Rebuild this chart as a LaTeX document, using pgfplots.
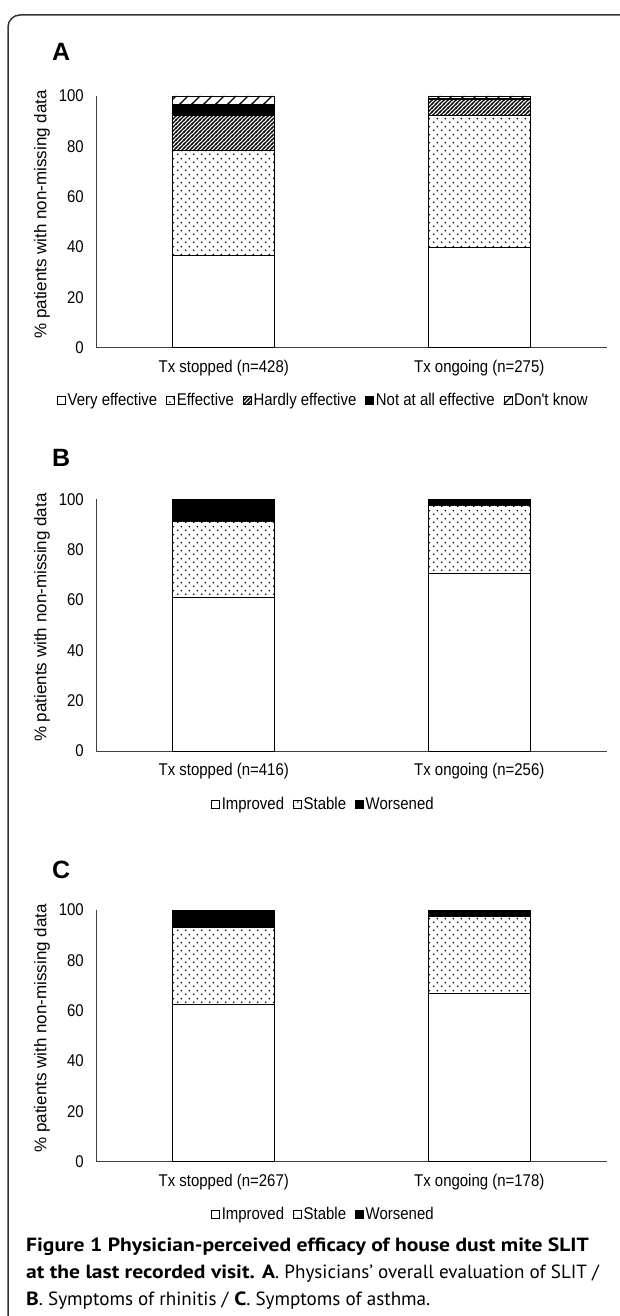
\documentclass[border=0pt]{standalone}
\usepackage{fontspec}
\usepackage{pgfplots}
\pgfplotsset{compat=1.18}
\usetikzlibrary{patterns}
\setmainfont{Liberation Sans}
\newfontfamily\chartfont[FakeStretch=0.88]{Liberation Sans}
\newfontfamily\capfont[BoldFeatures={FakeStretch=1.13}]{PT Sans}

% patterns of the bars
\pgfdeclarepatternformonly{sdots}{\pgfqpoint{0pt}{0pt}}{\pgfqpoint{8pt}{8pt}}{\pgfqpoint{8pt}{8pt}}{%
  \pgfpathcircle{\pgfqpoint{2pt}{2pt}}{1pt}%
  \pgfpathcircle{\pgfqpoint{6pt}{6pt}}{1pt}%
  \pgfusepath{fill}}
\pgfdeclarepatternformonly{shatch}{\pgfqpoint{-1pt}{-1pt}}{\pgfqpoint{5pt}{5pt}}{\pgfqpoint{4pt}{4pt}}{%
  \pgfsetlinewidth{1.1pt}%
  \pgfpathmoveto{\pgfqpoint{-1pt}{-1pt}}\pgfpathlineto{\pgfqpoint{5pt}{5pt}}%
  \pgfusepath{stroke}}
\pgfdeclarepatternformonly{sdash}{\pgfqpoint{-1pt}{-1pt}}{\pgfqpoint{13pt}{13pt}}{\pgfqpoint{12pt}{12pt}}{%
  \pgfsetlinewidth{1.1pt}%
  \pgfpathmoveto{\pgfqpoint{-1pt}{-1pt}}\pgfpathlineto{\pgfqpoint{13pt}{13pt}}%
  \pgfusepath{stroke}}

\pgfplotsset{
  panel/.style={
    ybar stacked, bar width=102pt,
    scale only axis, width=511pt, height=251.7pt,
    anchor=south west, clip=false,
    xmin=-0.5, xmax=1.5, ymin=0, ymax=100,
    axis x line=bottom, axis y line=left,
    axis line style={-, black!75, line width=0.9pt},
    major tick length=0pt,
    xtick={0,1}, ytick={0,20,40,60,80,100},
    yticklabels={0,20,40,60,80,100},
    tick label style={font=\chartfont\fontsize{17}{20}\selectfont},
    yticklabel style={inner sep=0pt, anchor=east, xshift=-12pt},
    xticklabel style={inner sep=0pt, anchor=north, yshift=-12pt},
    ylabel={\% patients with non-missing data},
    ylabel style={font=\fontsize{17}{20}\selectfont, at={(axis description cs:-0.1057,0.53)}, anchor=center},
    legend style={at={(axis description cs:0.445,-0.21)}, anchor=center, draw=none,
      legend columns=-1, font=\chartfont\fontsize{17}{20}\selectfont,
      inner xsep=0pt, inner ysep=0pt,
      nodes={inner xsep=2pt, inner ysep=0pt},
      /tikz/every even column/.append style={column sep=7pt}},
  },
  sq/.style={line width=0.8pt, draw=black,
    legend image code/.code={\draw[##1, draw=black, line width=0.6pt] (0pt,-4pt) rectangle (8pt,4pt);}},
}

\begin{document}
\begin{tikzpicture}
\useasboundingbox (0,0) rectangle (620pt,-1316pt);
\draw[black!80, line width=1.5pt, rounded corners=12pt] (8pt,-1340pt) -- (8pt,-15pt) -- (650pt,-15pt);

% A
\node[anchor=base west, inner sep=0pt, font=\bfseries\fontsize{25}{25}\selectfont] at (52pt,-61pt) {A};
\begin{axis}[panel, at={(96pt,-347.7pt)},
  xticklabels={Tx stopped (n=428), Tx ongoing (n=275)}]
\addplot[sq, fill=white] coordinates {(0,36.8) (1,40.0)};
\addplot[sq, pattern=sdots] coordinates {(0,41.7) (1,52.4)};
\addplot[sq, pattern=shatch] coordinates {(0,13.9) (1,6.3)};
\addplot[sq, fill=black] coordinates {(0,4.3) (1,0.5)};
\addplot[sq, pattern=sdash] coordinates {(0,3.3) (1,0.8)};
\legend{Very effective, Effective, Hardly effective, Not at all effective, Don't know}
\end{axis}

% B
\node[anchor=base west, inner sep=0pt, font=\bfseries\fontsize{25}{25}\selectfont] at (52pt,-466pt) {B};
\begin{axis}[panel, at={(96pt,-751pt)},
  xticklabels={Tx stopped (n=416), Tx ongoing (n=256)}]
\addplot[sq, fill=white] coordinates {(0,60.9) (1,70.6)};
\addplot[sq, pattern=sdots] coordinates {(0,30.4) (1,27.1)};
\addplot[sq, fill=black] coordinates {(0,8.7) (1,2.3)};
\legend{Improved, Stable, Worsened}
\end{axis}

% C
\node[anchor=base west, inner sep=0pt, font=\bfseries\fontsize{25}{25}\selectfont] at (52pt,-878pt) {C};
\begin{axis}[panel, at={(96pt,-1161.7pt)},
  xticklabels={Tx stopped (n=267), Tx ongoing (n=178)}]
\addplot[sq, fill=white] coordinates {(0,62.5) (1,66.9)};
\addplot[sq, pattern=sdots] coordinates {(0,30.7) (1,30.5)};
\addplot[sq, fill=black] coordinates {(0,6.8) (1,2.6)};
\legend{Improved, Stable, Worsened}
\end{axis}

% caption
\begin{scope}[every node/.style={anchor=base west, inner sep=0pt, font=\capfont\fontsize{19.1}{21}\selectfont}]
\node at (26pt,-1251pt) {\textbf{Figure 1 Physician-perceived efficacy of house dust mite SLIT}};
\node at (26pt,-1278pt) {\textbf{at the last recorded visit. A}. Physicians’ overall evaluation of SLIT /};
\node at (26pt,-1305pt) {\textbf{B}. Symptoms of rhinitis / \textbf{C}. Symptoms of asthma.};
\end{scope}
\end{tikzpicture}
\end{document}
